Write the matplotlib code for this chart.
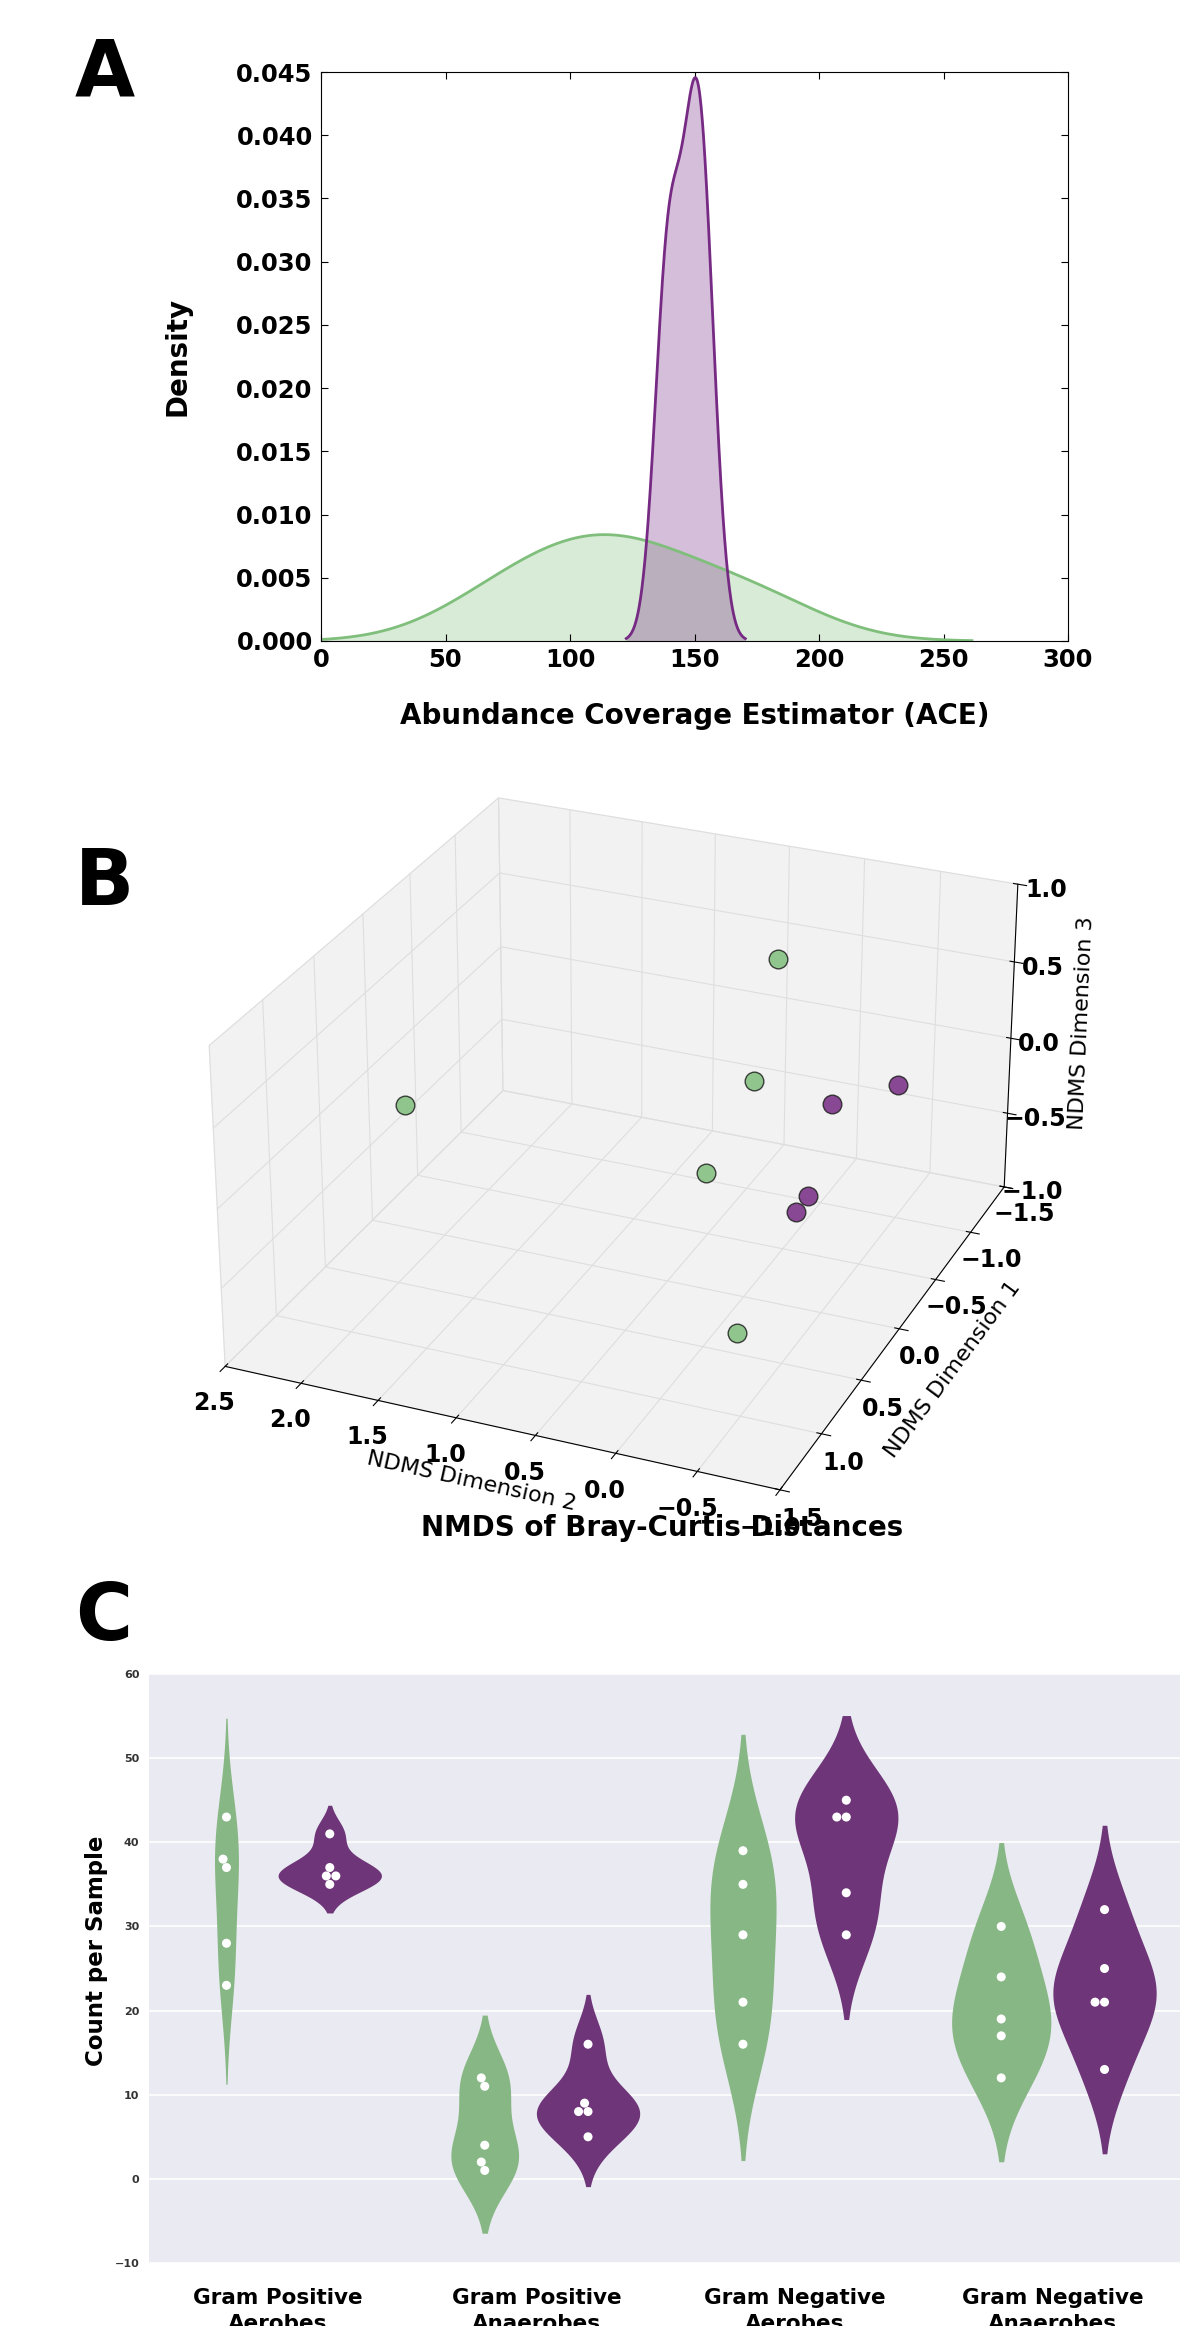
import warnings
import matplotlib
matplotlib.use("Agg")
import matplotlib.pyplot as plt
import numpy as np
import pandas as pd
import seaborn as sns

warnings.filterwarnings("ignore")
plt.rcParams["font.family"] = ["DejaVu Sans"]
plt.rcParams["font.weight"] = "bold"
plt.rcParams["axes.labelweight"] = "bold"

GREEN = "#7fbf7b"
PURPLE = "#762a83"

# panel A: ACE estimate per sample
ace_green = [72, 102, 116, 140, 176]
ace_purple = [138, 141, 149, 151, 155]

# panel B: NMDS ordination (Bray-Curtis), one value per sample
green_dim1 = [-0.93, -0.60, 0.26, -0.22, 0.84]
green_dim2 = [0.28, 0.26, 2.08, 0.37, -0.39]
green_dim3 = [0.6, 0.0, 0.0, -0.4, -0.6]
purple_dim1 = [-0.82, -0.52, -0.19, -0.03]
purple_dim2 = [-0.57, -0.29, -0.31, -0.31]
purple_dim3 = [0.0, 0.0, -0.4, -0.4]

# panel C: counts per sample by functional group
groups = ["Gram Positive\nAerobes", "Gram Positive\nAnaerobes",
          "Gram Negative\nAerobes", "Gram Negative\nAnaerobes"]
counts_green = [[23, 28, 37, 38, 43], [1, 2, 4, 11, 12],
                [16, 21, 29, 35, 39], [12, 17, 19, 24, 30]]
counts_purple = [[35, 36, 36, 37, 41], [5, 8, 8, 9, 16],
                 [29, 34, 43, 43, 45], [13, 21, 21, 25, 32]]

W, H = 1180, 2326


def rect(left, top, right, bottom):
    # pixel box -> figure fraction
    return [left / W, 1 - bottom / H, (right - left) / W, (bottom - top) / H]


def kde(data, cut=3, n=300):
    data = np.asarray(data, float)
    h = data.std(ddof=1) * len(data) ** (-1 / 5)
    grid = np.linspace(data.min() - cut * h, data.max() + cut * h, n)
    z = (grid[:, None] - data[None, :]) / h
    dens = np.exp(-0.5 * z ** 2).sum(axis=1) / (len(data) * h * np.sqrt(2 * np.pi))
    return grid, dens


fig = plt.figure(figsize=(W / 100, H / 100), dpi=100)

# ---------------- A ----------------
axa = fig.add_axes(rect(321, 72, 1068, 641))
for data, col in [(ace_green, GREEN), (ace_purple, PURPLE)]:
    x, d = kde(data)
    axa.fill_between(x, d, color=col, alpha=0.3, lw=0)
    axa.plot(x, d, color=col, lw=2)
axa.set_xlim(0, 300)
axa.set_ylim(0, 0.045)
axa.set_xticks(np.arange(0, 301, 50))
axa.set_yticks(np.arange(0, 0.0451, 0.005))
axa.yaxis.set_major_formatter(matplotlib.ticker.FormatStrFormatter("%.3f"))
axa.tick_params(direction="in", top=True, right=True, length=5, labelsize=17.5)
axa.tick_params(axis="x", pad=5)
axa.tick_params(axis="y", pad=6)
axa.set_xlabel("Abundance Coverage Estimator (ACE)", fontsize=20, va="center")
axa.xaxis.set_label_coords(0.5, -0.132)
axa.set_ylabel("Density", fontsize=20, va="center")
axa.yaxis.set_label_coords(-0.192, 0.5)

# ---------------- B ----------------
ax3 = fig.add_axes(rect(134, 736, 1104, 1526), projection="3d")
ax3.set_facecolor((1, 1, 1, 0))
ax3.view_init(elev=27, azim=113)
ax3.set_box_aspect((4, 4.5, 2.4), zoom=1.16)
ax3.scatter(green_dim2, green_dim1, green_dim3, s=180, c=GREEN, alpha=0.85,
            edgecolors="#222222", linewidths=1, depthshade=False)
ax3.scatter(purple_dim2, purple_dim1, purple_dim3, s=180, c=PURPLE, alpha=0.85,
            edgecolors="#222222", linewidths=1, depthshade=False)
ax3.set_xlim(-1.0, 2.5)
ax3.set_ylim(-1.5, 1.5)
ax3.set_zlim(-1.0, 1.0)
ax3.set_xticks(np.arange(-1.0, 2.51, 0.5))
ax3.set_yticks(np.arange(-1.5, 1.51, 0.5))
ax3.set_zticks(np.arange(-1.0, 1.01, 0.5))
ax3.tick_params(labelsize=17)
for axis in (ax3.xaxis, ax3.yaxis, ax3.zaxis):
    axis.set_pane_color((0.95, 0.95, 0.95, 1.0))
    axis._axinfo["grid"].update(color=(0.87, 0.87, 0.87), linewidth=0.8)
ax3.zaxis.set_ticks_position("lower")
ax3.zaxis.set_label_position("lower")
ax3.set_xlabel("NDMS Dimension 2", fontsize=16, fontweight="normal", labelpad=4)
ax3.set_ylabel("NDMS Dimension 1", fontsize=16, fontweight="normal", labelpad=8)
ax3.set_zlabel("NDMS Dimension 3", fontsize=16, fontweight="normal", labelpad=8)

fig.text(662 / W, 1 - 1528 / H, "NMDS of Bray-Curtis Distances",
         fontsize=20, ha="center", va="center")

# ---------------- C ----------------
rows = []
for g, cg, cp in zip(groups, counts_green, counts_purple):
    rows += [(g, "green", v) for v in cg]
    rows += [(g, "purple", v) for v in cp]
df = pd.DataFrame(rows, columns=["group", "cohort", "count"])

axc = fig.add_axes(rect(149, 1674, 1182, 2263))
axc.set_facecolor("#EAEAF2")
axc.set_axisbelow(True)
axc.grid(axis="y", color="white", lw=1.2)
vcols = [sns.desaturate(GREEN, 0.75), sns.desaturate(PURPLE, 0.75)]
for i, (cg, cp) in enumerate(zip(counts_green, counts_purple)):
    curves = [kde(cg, cut=2), kde(cp, cut=2)]
    peak = max(d.max() for _, d in curves)  # scale within each group
    for (yv, d), off, col in zip(curves, (-0.2, 0.2), vcols):
        half = d / peak * 0.2
        axc.fill_betweenx(yv, i + off - half, i + off + half, color=col, lw=0)
sns.swarmplot(data=df, x="group", y="count", hue="cohort", order=groups,
              dodge=True, palette=["white", "white"], size=6.5,
              legend=False, ax=axc)
axc.set_xlim(-0.5, 3.5)
axc.set_ylim(-10, 60)
axc.set_yticks(np.arange(-10, 61, 10))
for s in axc.spines.values():
    s.set_visible(False)
axc.tick_params(length=0)
axc.tick_params(axis="y", labelsize=8, pad=7, labelcolor="#333333")
axc.tick_params(axis="x", labelsize=15.5, pad=18)
for lab in axc.get_xticklabels():
    lab.set_linespacing(1.4)
axc.set_xlabel("")
axc.set_ylabel("Count per Sample", fontsize=16.5, va="center")
axc.yaxis.set_label_coords(-0.051, 0.53)

# panel letters
for letter, top in [("A", 35), ("B", 845), ("C", 1580)]:
    fig.text(75 / W, 1 - top / H, letter, fontsize=56, fontweight="bold",
             ha="left", va="top")

fig.savefig("out.png", dpi=100)
